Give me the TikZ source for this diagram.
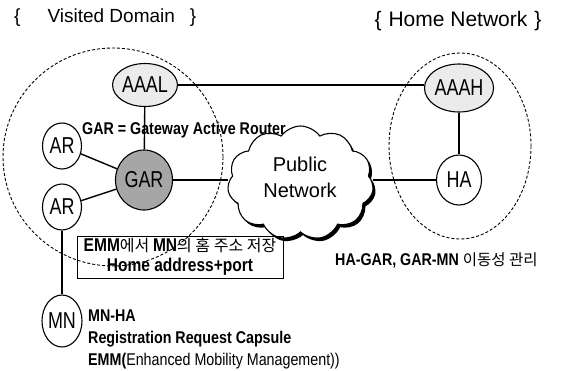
\documentclass[tikz,border=0pt]{standalone}
\usepackage{fontspec}
\setmainfont{Liberation Sans}
\newfontfamily\narrowf[FakeStretch=0.78]{Liberation Sans}
\newfontfamily\condf[FakeStretch=0.84]{Liberation Sans}
\newfontfamily\krf{Noto Sans CJK KR}
\usetikzlibrary{shapes.geometric,shapes.symbols}
\begin{document}
\begin{tikzpicture}[x=1pt,y=-1pt,
  netnode/.style={ellipse, draw, line width=1.1pt, inner sep=0pt, fill=white,
    font=\narrowf\fontsize{23}{23}\selectfont},
  conn/.style={line width=1.4pt},
  domainline/.style={dash pattern=on 3pt off 2pt, line width=0.9pt},
  boldtxt/.style={font=\condf\bfseries\fontsize{17}{19}\selectfont, inner sep=0pt, anchor=west},
  cloudshape/.style={cloud, cloud puffs=11, cloud puff arc=110, cloud ignores aspect,
    minimum width=146pt, minimum height=114pt, inner sep=0pt}
]
\useasboundingbox (0,0) rectangle (561,370);

% domains
\draw[domainline] (113,157) ellipse [x radius=110, y radius=109];
\draw[domainline] (460,146) ellipse [x radius=71, y radius=93];

% titles
\node[anchor=west, inner sep=0pt, font=\fontsize{19}{19}\selectfont] (vtitle) at (14,18)
  {\{\hspace{27pt}Visited Domain\hspace{15pt}\}};
\node[inner sep=0pt, font=\fontsize{21}{21}\selectfont] (htitle) at (458,21)
  {\{\hspace{7pt}Home Network\hspace{7pt}\}};

% cloud
\node[cloudshape, fill=black] (cloudsh) at (303,186) {};
\node[cloudshape, fill=white, draw, line width=1.1pt] (cloud) at (300.5,183) {};
\node[align=center, inner sep=0pt, font=\fontsize{20}{26}\selectfont] (pubnet) at (300,177) {Public\\Network};

% nodes
\node[netnode, fill=black!8, minimum width=47pt, minimum height=43pt] (AAAL) at (145,85) {AAAL};
\node[netnode, fill=black!8, minimum width=50pt, minimum height=48pt] (AAAH) at (459,88) {AAAH};
\node[netnode, fill=black!35, minimum width=57pt, minimum height=60pt] (GAR) at (144,180) {GAR};
\node[netnode, minimum width=39pt, minimum height=46pt] (AR1) at (62,146) {AR};
\node[netnode, minimum width=39pt, minimum height=46pt] (AR2) at (62,207) {AR};
\node[netnode, minimum width=40pt, minimum height=52pt] (MN) at (62,321) {MN};
\node[netnode, minimum width=45pt, minimum height=50pt] (HA) at (459,180) {HA};

% connectors
\draw[conn] (AAAL.east) -- (AAAL.east -| AAAH.west);
\draw[conn] (AAAL) -- (GAR);
\draw[conn] (AAAH) -- (HA);
\draw[conn] (AR1) -- (GAR);
\draw[conn] (AR2) -- (GAR);
\draw[conn] (AR2) -- (MN);
\draw[conn] (GAR.east) -- (GAR.east -| cloud.west);
\draw[conn] (HA.west -| cloud.east) -- (HA.west);

% texts
\node[boldtxt] (gardef) at (82,130) {GAR = Gateway Active Router};
\node[draw, line width=0.9pt, minimum width=206pt, minimum height=42pt, align=center,
  inner sep=0pt, font=\condf\fontsize{18.5}{20}\selectfont] (box) at (180,257)
  {{\bfseries EMM}{\krf\fontsize{16}{20}\selectfont 에서 }{\bfseries MN}{\krf\fontsize{16}{20}\selectfont 의 홈 주소 저장}\\{\bfseries Home address+port}};
\node[boldtxt] (mgmt) at (335,260) {HA-GAR, GAR-MN {\krf\mdseries\fontsize{15.5}{19}\selectfont 이동성 관리}};
\node[boldtxt] (mnha) at (88,316) {MN-HA};
\node[boldtxt] (regreq) at (88,339) {Registration Request Capsule};
\node[boldtxt] (emm) at (88,361) {EMM({\mdseries Enhanced Mobility Management))}};
\end{tikzpicture}
\end{document}
